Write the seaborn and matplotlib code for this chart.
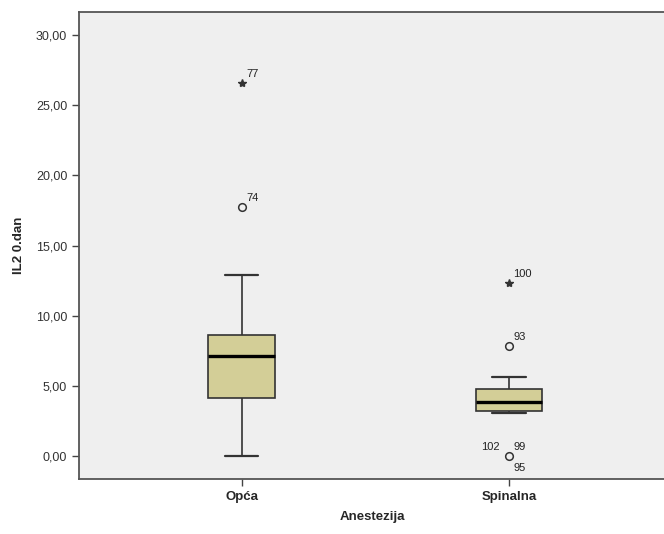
import numpy as np
import pandas as pd
import seaborn as sns
import matplotlib.pyplot as plt
from matplotlib.ticker import FuncFormatter

# values
groups = ["Opća", "Spinalna"]
# points inside the whiskers (chosen so hinges / median / whisker ends match)
opca_vals = [0.0, 4.16, 4.16, 7.1, 8.6, 8.6, 12.9]
spinalna_vals = [3.09, 3.2, 3.2, 3.85, 4.8, 4.8, 5.63]
# outliers: (group, value, case labels, marker)
out_group = ["Opća", "Opća", "Spinalna", "Spinalna", "Spinalna"]
out_value = [26.6, 17.77, 12.33, 7.84, 0.0]
out_marker = ["*", "o", "*", "o", "o"]
out_labels = [["77"], ["74"], ["100"], ["93"], ["102", "99", "95"]]

df = pd.DataFrame({
    "Anestezija": ["Opća"] * len(opca_vals) + ["Spinalna"] * len(spinalna_vals),
    "IL2 0.dan": opca_vals + spinalna_vals,
})

sns.set_style("white")
plt.rcParams["font.family"] = ["Liberation Sans", "DejaVu Sans"]

fig = plt.figure(figsize=(6.64, 5.34), dpi=100)
ax = fig.add_axes([0.119, 0.103, 0.885, 0.8745])
ax.set_facecolor("#efefef")

sns.boxplot(data=df, x="Anestezija", y="IL2 0.dan", order=groups, ax=ax,
            width=0.25, color="#d3ce97", saturation=1, showfliers=False,
            linecolor="#333333", linewidth=1.2,
            medianprops=dict(color="black", linewidth=2.4),
            capprops=dict(color="#333333", linewidth=1.6))

for g, v, m, labs in zip(out_group, out_value, out_marker, out_labels):
    xi = groups.index(g)
    if m == "*":
        ax.plot(xi, v, marker="*", ms=6, color="#333333", linestyle="none")
    else:
        ax.plot(xi, v, marker="o", ms=5.5, mfc="none", mec="#333333", mew=1.1,
                linestyle="none")
    if len(labs) == 1:
        ax.annotate(labs[0], (xi, v), xytext=(3, 4), textcoords="offset points",
                    fontsize=8, color="#222222")
    else:
        offs = [(-20, 4), (3, 4), (3, -11)]
        for lab, o in zip(labs, offs):
            ax.annotate(lab, (xi, v), xytext=o, textcoords="offset points",
                        fontsize=8, color="#222222")

ax.set_xlim(-0.609, 1.59)
ax.set_ylim(-1.64, 31.65)
ax.set_yticks(np.arange(0, 31, 5))
ax.yaxis.set_major_formatter(FuncFormatter(lambda v, p: f"{v:.2f}".replace(".", ",")))
ax.tick_params(axis="y", direction="out", length=5, width=1, color="#444444",
               labelsize=9, labelcolor="#333333", left=True)
ax.tick_params(axis="x", direction="out", length=5, width=1, color="#444444",
               labelsize=9.5, bottom=True)
for lab in ax.get_xticklabels():
    lab.set_fontweight("bold")

ax.set_xlabel("Anestezija", fontsize=9.5, fontweight="bold", labelpad=6)
ax.set_ylabel("IL2 0.dan", fontsize=9.5, fontweight="bold", labelpad=8)

for s in ["left", "bottom", "top"]:
    ax.spines[s].set_color("#555555")
    ax.spines[s].set_linewidth(1.3)
ax.spines["right"].set_visible(False)

fig.savefig("out.png", dpi=100)
